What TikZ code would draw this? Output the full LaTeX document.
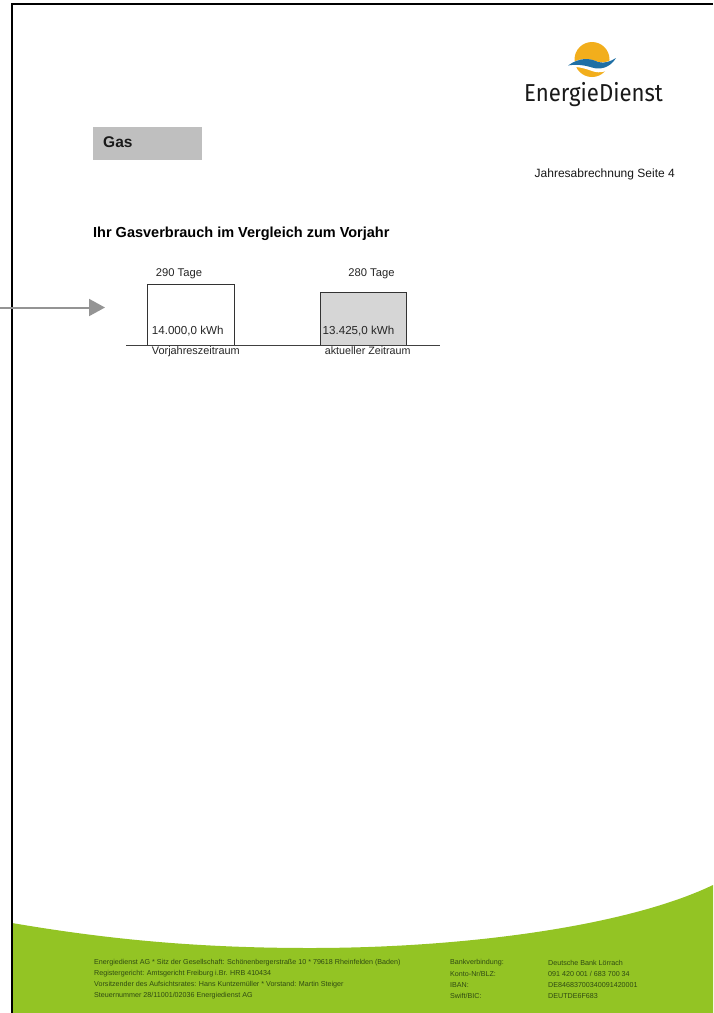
\documentclass[tikz,border=0pt]{standalone}
\usepackage{fontspec}
\setmainfont{Liberation Sans}
\newfontfamily\logofont{Fira Sans}
\usetikzlibrary{arrows.meta}
\definecolor{leaf}{HTML}{93C424}
\definecolor{footink}{HTML}{2F4A12}
\definecolor{sun}{HTML}{F2AE1C}
\definecolor{wave}{HTML}{1F6FA5}
\tikzset{
  x=1pt,y=-1pt,
  bar/.style={draw=black!80,line width=0.9pt,anchor=north west,inner sep=0pt,outer sep=0pt,minimum width=86.4pt},
  foot/.style={font=\fontsize{7.15}{8}\selectfont,text=footink,anchor=west,inner sep=0pt},
  pointer/.style={draw=black!42,line width=2pt,-{Triangle[length=16pt,width=17pt]}}
}
\begin{document}
\begin{tikzpicture}
\useasboundingbox (0,0) rectangle (713,1013);
\fill[white] (0,0) rectangle (713,1013);
% green footer
\fill[leaf] (12,923) .. controls (100,938) and (190,948) .. (310,948)
  .. controls (470,948) and (630,925) .. (713,885) -- (713,1013) -- (12,1013) -- cycle;
% page frame
\draw[line width=2pt] (12,1013) -- (12,4) -- (713,4);
% logo
\fill[sun] (592,59.5) circle (17.5);
\fill[white] (566,66) .. controls (580,57) and (588,58) .. (598,62)
  .. controls (606,64) and (612,60) .. (618,56) -- (618,62)
  .. controls (610,72) and (600,74) .. (592,71) .. controls (584,68) and (576,66) .. (566,67) -- cycle;
\fill[wave] (568,65.5) .. controls (580,57) and (590,58) .. (598,62)
  .. controls (605,64) and (611,61) .. (616,58)
  .. controls (610,68) and (600,70) .. (592,67.5) .. controls (584,65) and (576,64) .. (568,65.5) -- cycle;
\node[font=\logofont\fontsize{24.5}{28}\selectfont,text=black!90,inner sep=0pt,anchor=base west] (logo) at (524,101) {\scalebox{0.905}[1]{EnergieDienst}};
% heading
\fill[black!25] (93,127) rectangle (202,160);
\node[font=\bfseries\fontsize{15.5}{18}\selectfont,text=black!90,anchor=base west,inner sep=0pt] (gas) at (103,147.5) {Gas};
\node[font=\fontsize{12}{14}\selectfont,anchor=base east,inner sep=0pt,text=black!90] (page) at (675,177) {Jahresabrechnung Seite 4};
\node[font=\bfseries\fontsize{14.5}{17}\selectfont,anchor=base west,inner sep=0pt] (title) at (93,237) {Ihr Gasverbrauch im Vergleich zum Vorjahr};
% chart
\node[bar,minimum height=61pt] (prev) at (147.7,284) {};
\node[bar,fill=black!16,minimum height=52.7pt] (curr) at (320.3,292.3) {};
\coordinate (axisL) at (126,345);
\coordinate (axisR) at (440,345);
\draw[black!75,line width=0.9pt] (axisL) -- (axisR);
\node[font=\fontsize{11.2}{13}\selectfont,text=black!85,inner sep=0pt,anchor=base] (d1) at (179,276.7) {290 Tage};
\node[font=\fontsize{11.2}{13}\selectfont,text=black!85,inner sep=0pt,anchor=base] (d2) at (371.5,276.7) {280 Tage};
\node[font=\fontsize{11.6}{13}\selectfont,text=black!85,inner sep=0pt,anchor=base west] (v1) at (151.7,334) {14.000,0 kWh};
\node[font=\fontsize{11.6}{13}\selectfont,text=black!85,inner sep=0pt,anchor=base west] (v2) at (322.5,334) {13.425,0 kWh};
\node[font=\fontsize{10.9}{13}\selectfont,text=black!85,inner sep=0pt,anchor=base west] (n1) at (151.7,354.3) {Vorjahreszeitraum};
\node[font=\fontsize{10.7}{13}\selectfont,text=black!85,inner sep=0pt,anchor=base west] (n2) at (324.7,354.3) {aktueller Zeitraum};
% pointer
\coordinate (pa) at (0,307.5);
\coordinate (pb) at (105,307.5);
\draw[pointer] (pa) -- (pb);
% footer text
\node[foot] (f1) at (94,963) {Energiedienst AG * Sitz der Gesellschaft: Schönenbergerstraße 10 * 79618 Rheinfelden (Baden)};
\node[foot] (f2) at (94,974) {Registergericht: Amtsgericht Freiburg i.Br. HRB 410434};
\node[foot] (f3) at (94,985) {Vorsitzender des Aufsichtsrates: Hans Kuntzemüller * Vorstand: Martin Steiger};
\node[foot] (f4) at (94,996) {Steuernummer 28/11001/02036 Energiedienst AG};
\node[foot] (b1) at (450,963) {Bankverbindung:};
\node[foot] (b2) at (450,974) {Konto-Nr/BLZ:};
\node[foot] (b3) at (450,985) {IBAN:};
\node[foot] (b4) at (450,996) {Swift/BIC:};
\node[foot] (c1) at (548,963) {Deutsche Bank Lörrach};
\node[foot] (c2) at (548,974) {091 420 001 / 683 700 34};
\node[foot] (c3) at (548,985) {DE84683700340091420001};
\node[foot] (c4) at (548,996) {DEUTDE6F683};
\end{tikzpicture}
\end{document}
